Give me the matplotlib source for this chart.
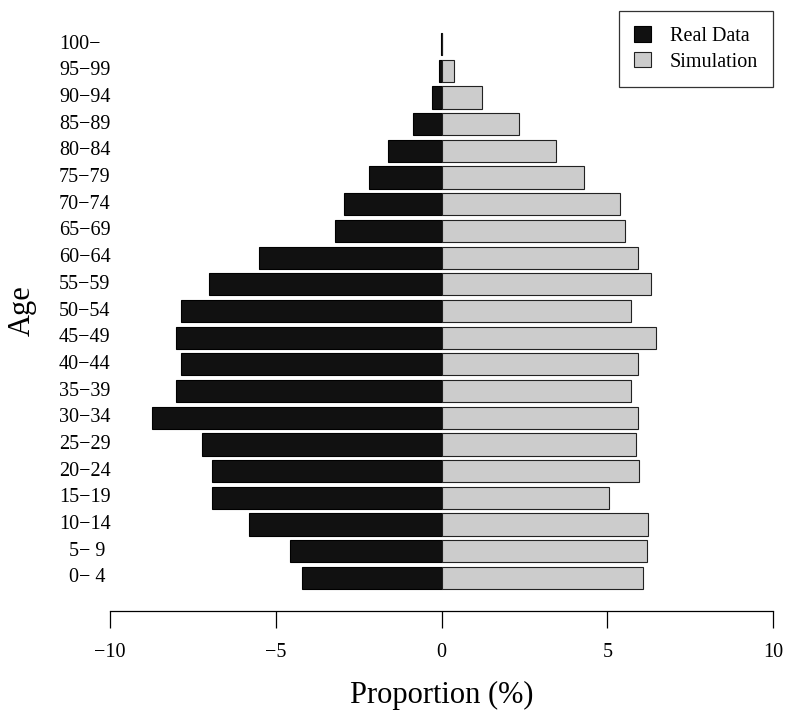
import numpy as np
import matplotlib
matplotlib.use("Agg")
import matplotlib.pyplot as plt
from matplotlib.patches import Patch
from matplotlib.transforms import blended_transform_factory

plt.rcParams['font.family'] = ['Liberation Serif', 'DejaVu Serif']

# age groups from youngest to oldest
ages = ["  0\u2212 4", "  5\u2212 9", "10\u221214", "15\u221219", "20\u221224", "25\u221229",
        "30\u221234", "35\u221239", "40\u221244", "45\u221249", "50\u221254", "55\u221259",
        "60\u221264", "65\u221269", "70\u221274", "75\u221279", "80\u221284", "85\u221289",
        "90\u221294", "95\u221299", "100\u2212"]

# proportions (%) per age group
real_data = [4.21, 4.58, 5.81, 6.91, 6.91, 7.22, 8.73, 8.02, 7.86, 8.02, 7.87,
             7.00, 5.50, 3.20, 2.93, 2.18, 1.62, 0.85, 0.28, 0.07, 0.01]
simulation = [6.08, 6.21, 6.24, 5.05, 5.96, 5.88, 5.94, 5.72, 5.94, 6.47, 5.72,
              6.33, 5.92, 5.53, 5.39, 4.29, 3.45, 2.35, 1.21, 0.37, 0.01]

xticks = [-10, -5, 0, 5, 10]

fig = plt.figure(figsize=(7.88, 7.13), dpi=100)
ax = fig.add_axes([110 / 788, 102 / 713, 663 / 788, 600 / 713])

# barplot style positions: width 1, space 0.2
y = 0.7 + 1.2 * np.arange(len(ages))
ax.barh(y, -np.array(real_data), height=1.0, color="#111111",
        edgecolor="black", linewidth=0.8)
ax.barh(y, simulation, height=1.0, color="#cccccc",
        edgecolor="#222222", linewidth=0.8)

ax.set_xlim(-10, 10)
ax.set_ylim(-0.79, y[-1] + 0.5 + 0.99)

for s in ["top", "right", "left"]:
    ax.spines[s].set_visible(False)
ax.spines["bottom"].set_linewidth(0.9)
ax.set_yticks([])
ax.set_xticks(xticks)
ax.set_xticklabels(["\u221210", "\u22125", "0", "5", "10"], fontsize=14.5)
ax.tick_params(axis="x", length=12, width=0.9, pad=11)

# age labels left aligned in the margin
trans = blended_transform_factory(ax.transAxes, ax.transData)
for yi, lab in zip(y, ages):
    ax.text(-51 / 663, yi, lab, transform=trans, ha="left", va="center",
            fontsize=14.5)

ax.set_xlabel("Proportion (%)", fontsize=22, labelpad=14)
fig.text(22 / 788, 1 - 311 / 713, "Age", rotation=90, ha="center",
         va="center", fontsize=22)

handles = [Patch(facecolor="#111111", edgecolor="black", linewidth=0.8),
           Patch(facecolor="#cccccc", edgecolor="#222222", linewidth=0.8)]
leg = ax.legend(handles, ["Real Data", "Simulation"], loc="upper right",
                fontsize=14.5, frameon=True, fancybox=False, borderaxespad=0,
                handlelength=0.8, handleheight=0.8, handletextpad=0.95,
                borderpad=0.75, labelspacing=0.3)
leg.get_frame().set_edgecolor("black")
leg.get_frame().set_linewidth(0.9)

fig.savefig("out.png", dpi=100)
